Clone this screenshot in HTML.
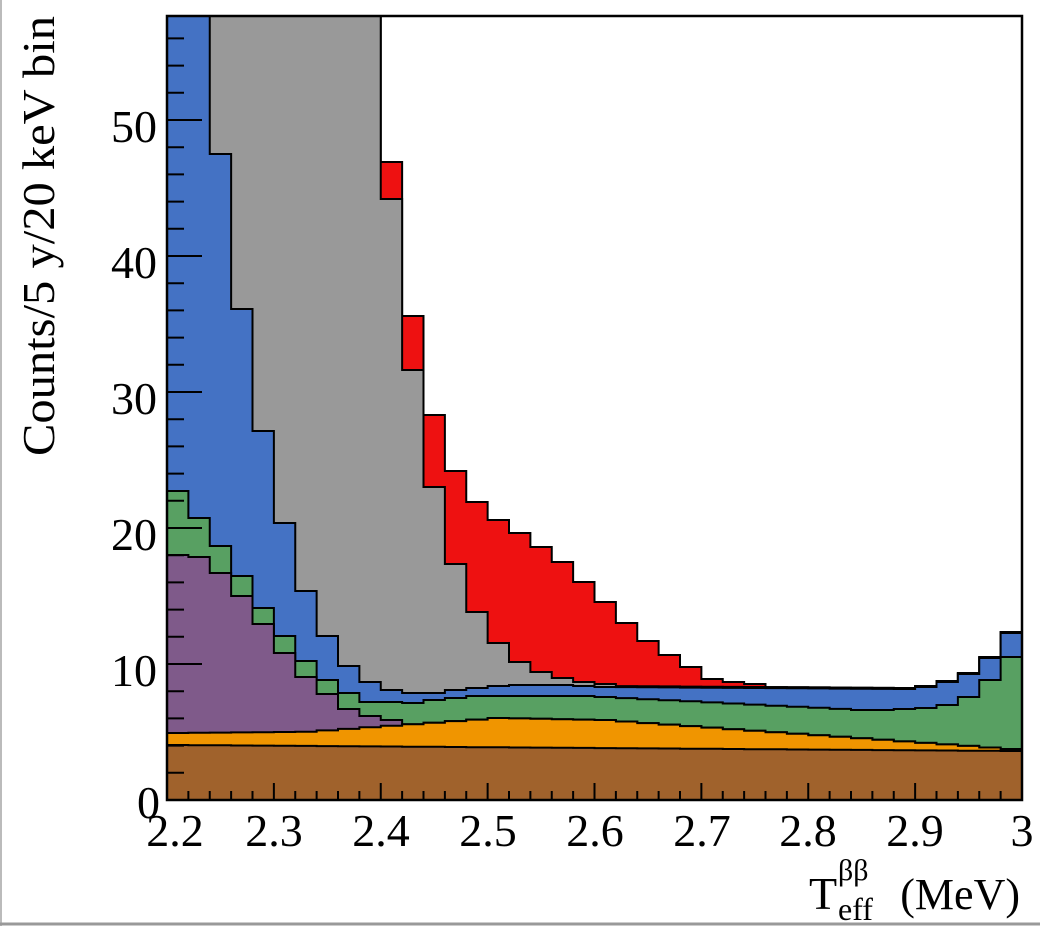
<!DOCTYPE html>
<html><head><meta charset="utf-8">
<style>html,body{margin:0;padding:0;background:#fff;}svg{display:block;}</style>
</head><body>
<svg id="s" width="1040" height="926" xmlns="http://www.w3.org/2000/svg" font-family="Liberation Serif, serif">
<rect x="0" y="0" width="1040" height="926" fill="#fff"/>
<line x1="1" y1="0" x2="1" y2="926" stroke="#bbb" stroke-width="2"/>
<line x1="0" y1="924" x2="1040" y2="924" stroke="#999" stroke-width="3"/>
<g id="layers"></g>
<g id="ticks" stroke="#000" stroke-width="2"></g>
<rect x="167" y="16" width="855" height="784" fill="none" stroke="#000" stroke-width="2.5"/>
<g font-size="46" fill="#000" text-anchor="end">
<text x="157" y="142">50</text>
<text x="157" y="278">40</text>
<text x="157" y="414">30</text>
<text x="157" y="550">20</text>
<text x="157" y="686">10</text>
<text x="160" y="818">0</text>
</g>
<g font-size="46" fill="#000" text-anchor="middle">
<text x="175" y="846">2.2</text>
<text x="274" y="846">2.3</text>
<text x="381" y="846">2.4</text>
<text x="488" y="846">2.5</text>
<text x="595" y="846">2.6</text>
<text x="702" y="846">2.7</text>
<text x="808" y="846">2.8</text>
<text x="915" y="846">2.9</text>
<text x="1022" y="846">3</text>
</g>
<text x="809" y="909" font-size="46">T</text>
<text x="838" y="920" font-size="32">eff</text>
<text x="838" y="880" font-size="30">ββ</text>
<text x="1020" y="909" font-size="44" text-anchor="end">(MeV)</text>
<text transform="translate(54,236) rotate(-90)" font-size="46" text-anchor="middle" textLength="440" lengthAdjust="spacingAndGlyphs">Counts/5 y/20 keV bin</text>
</svg>
<script>
(function(){
var N=40,x0=167,w=855/40,B=800;
function arr(f){var a=[];for(var i=0;i<N;i++)a.push(f(i));return a;}
function lerp(a,b,t){return a+(b-a)*t;}
var brown=arr(function(i){return 745+6*i/39;});
var orange=arr(function(i){
 if(i<=6)return 733-0.2*i;
 if(i<=15)return lerp(732,718,(i-6)/9);
 if(i<=20)return lerp(718,720,(i-15)/5);
 return lerp(720,749,(i-20)/19);});
var pl=[555,557,573,596,624,653,677,694,709,716,720];
var purple=arr(function(i){return i<pl.length?Math.min(pl[i],orange[i]):orange[i];});
var gl=[491,518,546,576,608,636,661,680,693,702,702,703,700,698,696,696,696,696,696,696,697];
var green=arr(function(i){
 if(i<gl.length)return gl[i];
 if(i<=32)return lerp(697,710,(i-20)/12);
 return {33:710,34:709,35:708,36:705,37:697,38:680,39:657}[i];});
var bl=[16,16,154,309,431,523,591,636,666,682,690,693,693,690,688,686,685,685,685,686,687];
var blue=arr(function(i){
 if(i<bl.length)return bl[i];
 if(i<=34)return lerp(687,689,(i-20)/14);
 return {35:687,36:682,37:674,38:658,39:633}[i];});
var gr=[199,370,487,564,612,643,662,672,678,682,684];
var gray=arr(function(i){
 if(i<10)return 16;
 if(i<21)return gr[i-10];
 return blue[i]-1;});
var rl={10:162,11:316,12:415,13:471,14:502,15:520,16:533,17:547,18:562,19:582,20:602,21:623,22:641,23:655,24:667,25:679,26:682,27:684};
var red=arr(function(i){
 if(i<10)return 16;
 if(rl[i]!==undefined)return Math.min(rl[i],gray[i]);
 return gray[i];});
function path(t){
 var d="M"+x0+","+B;
 for(var i=0;i<N;i++){var xa=x0+i*w,xb=x0+(i+1)*w;d+=" L"+xa.toFixed(2)+","+t[i].toFixed(1)+" L"+xb.toFixed(2)+","+t[i].toFixed(1);}
 d+=" L"+(x0+N*w)+","+B+" Z";return d;}
var L=[[red,"#ee1111"],[gray,"#999999"],[blue,"#4472c4"],[green,"#58a062"],[purple,"#7f5a8a"],[orange,"#f09500"],[brown,"#a0622c"]];
var g=document.getElementById("layers"),ns="http://www.w3.org/2000/svg";
L.forEach(function(l){var p=document.createElementNS(ns,"path");p.setAttribute("d",path(l[0]));p.setAttribute("fill",l[1]);p.setAttribute("stroke","#000");p.setAttribute("stroke-width","2");p.setAttribute("stroke-linejoin","miter");g.appendChild(p);});
var t=document.getElementById("ticks");
function ln(a,b,c,d){var e=document.createElementNS(ns,"line");e.setAttribute("x1",a);e.setAttribute("y1",b);e.setAttribute("x2",c);e.setAttribute("y2",d);t.appendChild(e);}
for(var v=0;v<=57;v+=2){var y=800-v*13.6;ln(167,y,(v%10==0)?202:184,y);}
for(var k=0;k<=40;k++){var x=167+k*w;ln(x,800,x,(k%5==0)?783:791);}
})();
</script>
</body></html>
